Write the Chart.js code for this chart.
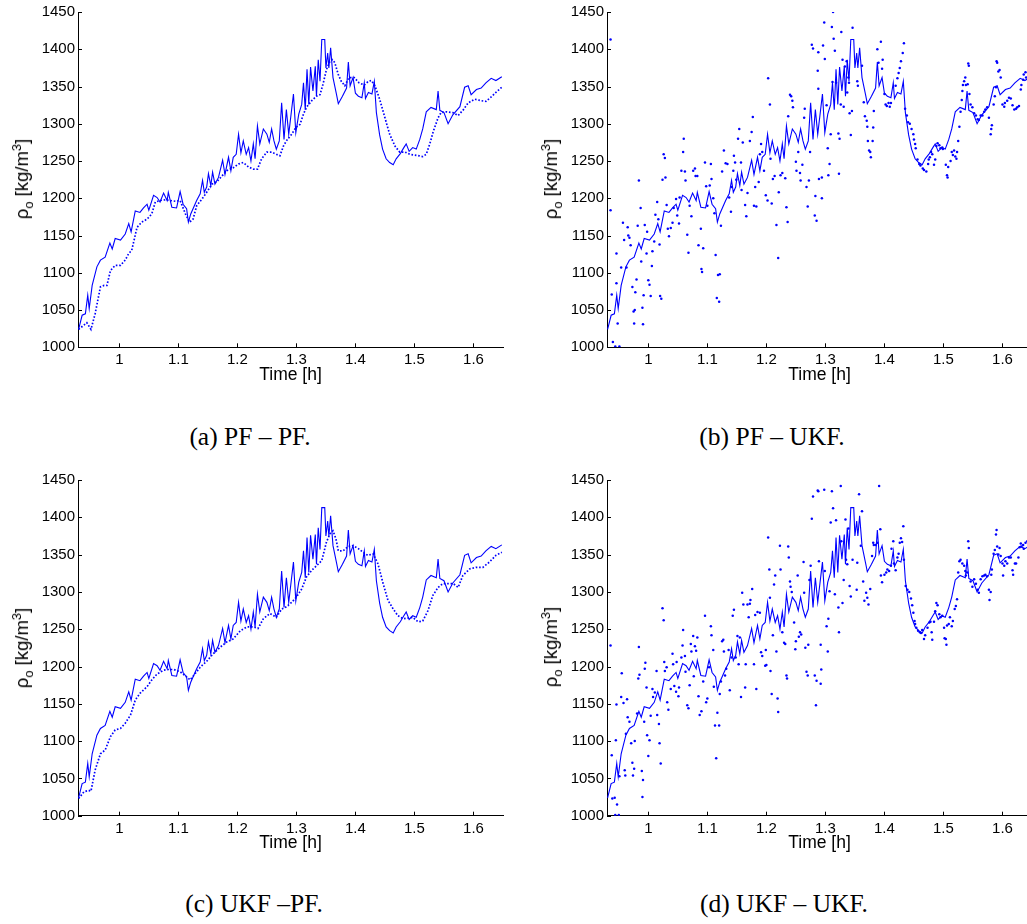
<!DOCTYPE html>
<html>
<head>
<meta charset="utf-8">
<script src="https://cdn.jsdelivr.net/npm/chart.js@4.4.0/dist/chart.umd.min.js"></script>
<style>
    html, body { margin: 0; padding: 0; background: #fff; }
    body { width: 1027px; height: 924px; overflow: hidden; position: relative; }
    canvas { position: absolute; }
    .ylab {
        position: absolute; white-space: nowrap; color: #000;
        font: 18.5px "Liberation Sans", Arial, sans-serif;
        transform: translate(-50%, -50%) rotate(-90deg);
    }
    .ylab sub, .ylab sup { font-size: 70%; line-height: 0; }
    .cap {
        position: absolute; white-space: nowrap; color: #000;
        font: 25.5px "Liberation Serif", "Times New Roman", serif;
        transform: translate(-50%, -50%);
    }
</style>
</head>
<body>
<script>
// Axis ticks
const xTicks = [1, 1.1, 1.2, 1.3, 1.4, 1.5, 1.6];
const yTicks = [1000, 1050, 1100, 1150, 1200, 1250, 1300, 1350, 1400, 1450];

// True density [time h, rho kg/m3] (solid line, same in every panel)
const trueRho = [[0.931,1024],[0.937,1043],[0.9425,1045],[0.9465,1070],[0.949,1052],[0.954,1083],[0.962,1108],[0.968,1117],[0.976,1121],[0.984,1140],[0.988,1132],[0.993,1146],[1.002,1144],[1.010,1152],[1.016,1166],[1.020,1155],[1.027,1183],[1.035,1181],[1.041,1187],[1.047,1192],[1.050,1184],[1.058,1204],[1.064,1201],[1.069,1195],[1.075,1207],[1.081,1197],[1.083,1208],[1.089,1188],[1.097,1187],[1.103,1209],[1.108,1192],[1.114,1186],[1.117,1168],[1.121,1179],[1.126,1188],[1.131,1197],[1.137,1206],[1.141,1224],[1.144,1208],[1.148,1215],[1.151,1233],[1.155,1217],[1.158,1235],[1.162,1219],[1.168,1228],[1.175,1251],[1.179,1232],[1.185,1255],[1.189,1237],[1.193,1255],[1.198,1259],[1.202,1286],[1.206,1261],[1.210,1277],[1.215,1259],[1.219,1268],[1.223,1250],[1.227,1273],[1.230,1253],[1.234,1297],[1.238,1273],[1.244,1293],[1.250,1286],[1.254,1275],[1.258,1293],[1.262,1277],[1.266,1266],[1.271,1277],[1.275,1328],[1.279,1279],[1.283,1319],[1.287,1286],[1.295,1340],[1.299,1288],[1.304,1313],[1.309,1326],[1.312,1355],[1.315,1319],[1.318,1373],[1.321,1326],[1.324,1376],[1.328,1344],[1.332,1377],[1.334,1337],[1.337,1386],[1.340,1357],[1.343,1413],[1.348,1413],[1.350,1375],[1.353,1395],[1.355,1375],[1.358,1402],[1.362,1362],[1.368,1339],[1.371,1327],[1.378,1337],[1.385,1348],[1.388,1383],[1.391,1351],[1.396,1362],[1.400,1341],[1.405,1337],[1.411,1335],[1.415,1355],[1.417,1334],[1.422,1342],[1.428,1340],[1.432,1357],[1.4355,1315],[1.441,1285],[1.446,1266],[1.452,1253],[1.458,1248],[1.464,1245],[1.469,1253],[1.476,1260],[1.482,1268],[1.486,1273],[1.491,1263],[1.497,1268],[1.503,1266],[1.509,1279],[1.514,1293],[1.520,1316],[1.528,1322],[1.537,1319],[1.540,1344],[1.543,1318],[1.550,1315],[1.557,1300],[1.565,1312],[1.577,1323],[1.585,1349],[1.591,1351],[1.596,1339],[1.605,1346],[1.613,1348],[1.621,1355],[1.630,1361],[1.638,1358],[1.648,1363]];

// (a) PF - PF estimate
const estA = [[0.931,1024],[0.945,1033],[0.952,1024],[0.959,1045],[0.968,1081],[0.974,1083],[0.979,1083],[0.985,1103],[0.993,1110],[1.002,1110],[1.010,1117],[1.016,1126],[1.021,1130],[1.030,1161],[1.038,1168],[1.047,1172],[1.055,1179],[1.061,1195],[1.069,1197],[1.078,1198],[1.086,1197],[1.095,1196],[1.103,1197],[1.112,1179],[1.119,1168],[1.125,1172],[1.131,1190],[1.140,1199],[1.148,1208],[1.157,1219],[1.165,1222],[1.174,1230],[1.182,1237],[1.193,1241],[1.202,1246],[1.210,1248],[1.219,1242],[1.227,1239],[1.234,1239],[1.241,1253],[1.250,1262],[1.258,1262],[1.266,1259],[1.272,1257],[1.278,1270],[1.283,1277],[1.292,1286],[1.299,1295],[1.306,1299],[1.312,1313],[1.317,1322],[1.326,1331],[1.334,1337],[1.340,1339],[1.345,1353],[1.351,1373],[1.357,1384],[1.361,1386],[1.365,1382],[1.371,1366],[1.376,1357],[1.382,1351],[1.389,1362],[1.398,1362],[1.406,1355],[1.415,1352],[1.422,1357],[1.427,1358],[1.433,1351],[1.441,1333],[1.450,1308],[1.458,1286],[1.467,1270],[1.475,1262],[1.484,1262],[1.492,1259],[1.500,1258],[1.508,1257],[1.514,1256],[1.520,1259],[1.526,1273],[1.532,1290],[1.540,1308],[1.545,1315],[1.554,1316],[1.565,1315],[1.574,1311],[1.583,1319],[1.591,1328],[1.602,1333],[1.613,1331],[1.621,1330],[1.630,1336],[1.638,1342],[1.648,1349]];

// (c) UKF - PF estimate
const estC = [[0.931,1023],[0.940,1032],[0.948,1034],[0.952,1033],[0.959,1061],[0.968,1083],[0.976,1088],[0.985,1106],[0.993,1115],[1.002,1117],[1.010,1124],[1.019,1135],[1.027,1155],[1.035,1164],[1.047,1173],[1.055,1182],[1.064,1190],[1.075,1195],[1.083,1196],[1.092,1196],[1.103,1193],[1.114,1186],[1.120,1182],[1.128,1190],[1.137,1199],[1.148,1207],[1.159,1217],[1.171,1226],[1.182,1233],[1.193,1237],[1.205,1248],[1.216,1253],[1.227,1253],[1.235,1251],[1.244,1264],[1.255,1271],[1.266,1266],[1.275,1277],[1.283,1280],[1.292,1286],[1.300,1293],[1.309,1304],[1.317,1320],[1.326,1329],[1.334,1335],[1.343,1342],[1.351,1367],[1.357,1378],[1.362,1382],[1.367,1371],[1.371,1355],[1.379,1355],[1.388,1361],[1.396,1362],[1.405,1358],[1.413,1353],[1.421,1349],[1.430,1351],[1.438,1338],[1.447,1311],[1.455,1289],[1.464,1277],[1.472,1268],[1.481,1264],[1.490,1265],[1.497,1266],[1.506,1260],[1.514,1261],[1.523,1275],[1.531,1295],[1.540,1306],[1.548,1311],[1.557,1311],[1.566,1311],[1.574,1306],[1.582,1322],[1.594,1331],[1.605,1333],[1.616,1333],[1.627,1340],[1.638,1349],[1.648,1353]];

// (b) PF - UKF estimate (scattered points)
const estB = [[0.936,1413],[0.936,1184],[0.938,1071],[0.940,1007],[0.944,1001],[0.951,1001],[0.946,1086],[0.948,1032],[0.946,1126],[0.954,1107],[0.957,1167],[0.959,1144],[0.963,1107],[0.965,1161],[0.966,1150],[0.968,1147],[0.970,1137],[0.973,1081],[0.975,1048],[0.977,1050],[0.976,1032],[0.978,1074],[0.980,1091],[0.982,1163],[0.984,1224],[0.987,1187],[0.988,1115],[0.990,1053],[0.991,1031],[0.992,1070],[0.994,1164],[0.997,1126],[0.998,1155],[1.000,1090],[1.002,1084],[1.004,1069],[1.006,1109],[1.007,1129],[1.010,1142],[1.012,1178],[1.015,1195],[1.017,1172],[1.019,1138],[1.020,1069],[1.022,1065],[1.024,1225],[1.026,1259],[1.028,1254],[1.029,1228],[1.031,1191],[1.033,1159],[1.035,1149],[1.038,1160],[1.041,1167],[1.043,1187],[1.047,1199],[1.049,1177],[1.052,1166],[1.053,1201],[1.056,1237],[1.059,1262],[1.060,1280],[1.062,1236],[1.063,1224],[1.066,1151],[1.068,1127],[1.070,1190],[1.073,1176],[1.076,1237],[1.079,1240],[1.080,1230],[1.083,1230],[1.085,1137],[1.089,1159],[1.090,1105],[1.091,1101],[1.093,1133],[1.096,1248],[1.098,1216],[1.100,1190],[1.104,1217],[1.106,1246],[1.107,1226],[1.110,1200],[1.112,1180],[1.114,1124],[1.116,1066],[1.118,1097],[1.120,1061],[1.121,1098],[1.123,1163],[1.125,1236],[1.128,1264],[1.131,1247],[1.134,1246],[1.137,1201],[1.140,1182],[1.141,1215],[1.144,1237],[1.145,1257],[1.147,1248],[1.149,1225],[1.152,1280],[1.154,1293],[1.157,1248],[1.158,1211],[1.160,1275],[1.164,1191],[1.166,1176],[1.168,1207],[1.172,1277],[1.175,1289],[1.177,1309],[1.179,1190],[1.181,1215],[1.183,1189],[1.187,1222],[1.189,1259],[1.191,1273],[1.193,1262],[1.196,1237],[1.199,1204],[1.202,1197],[1.203,1361],[1.206,1326],[1.207,1253],[1.209,1193],[1.211,1226],[1.214,1230],[1.217,1164],[1.220,1120],[1.221,1208],[1.224,1231],[1.227,1234],[1.232,1227],[1.234,1188],[1.236,1168],[1.237,1310],[1.240,1339],[1.242,1337],[1.244,1331],[1.245,1322],[1.250,1249],[1.251,1237],[1.254,1262],[1.257,1234],[1.258,1224],[1.261,1245],[1.264,1308],[1.265,1320],[1.268,1215],[1.270,1189],[1.272,1224],[1.274,1262],[1.277,1406],[1.279,1401],[1.282,1177],[1.283,1203],[1.285,1170],[1.288,1396],[1.288,1347],[1.289,1226],[1.287,1371],[1.294,1200],[1.294,1228],[1.296,1405],[1.298,1436],[1.299,1387],[1.302,1325],[1.304,1267],[1.305,1231],[1.307,1246],[1.309,1286],[1.311,1430],[1.312,1356],[1.313,1450],[1.314,1414],[1.316,1398],[1.318,1355],[1.322,1287],[1.323,1233],[1.324,1280],[1.326,1326],[1.327,1423],[1.329,1386],[1.331,1323],[1.333,1377],[1.336,1384],[1.337,1342],[1.339,1362],[1.340,1355],[1.341,1314],[1.343,1285],[1.345,1317],[1.346,1429],[1.354,1357],[1.355,1351],[1.362,1378],[1.365,1329],[1.367,1310],[1.370,1304],[1.371,1296],[1.372,1277],[1.374,1264],[1.376,1262],[1.377,1255],[1.380,1277],[1.381,1295],[1.382,1317],[1.388,1400],[1.390,1382],[1.394,1410],[1.396,1374],[1.397,1386],[1.400,1340],[1.402,1326],[1.404,1324],[1.407,1328],[1.409,1323],[1.411,1328],[1.419,1351],[1.422,1361],[1.424,1368],[1.426,1375],[1.428,1384],[1.431,1395],[1.433,1408],[1.435,1320],[1.438,1311],[1.440,1302],[1.443,1300],[1.446,1293],[1.449,1286],[1.450,1279],[1.452,1273],[1.453,1267],[1.456,1252],[1.459,1246],[1.461,1244],[1.465,1240],[1.467,1238],[1.471,1236],[1.474,1246],[1.475,1252],[1.477,1255],[1.479,1262],[1.481,1259],[1.484,1245],[1.486,1252],[1.488,1270],[1.490,1274],[1.493,1271],[1.495,1267],[1.498,1268],[1.499,1266],[1.504,1245],[1.506,1231],[1.507,1228],[1.508,1242],[1.512,1250],[1.514,1262],[1.516,1258],[1.518,1264],[1.520,1256],[1.522,1253],[1.523,1262],[1.525,1277],[1.527,1296],[1.529,1316],[1.531,1332],[1.532,1344],[1.533,1352],[1.535,1357],[1.537,1362],[1.538,1352],[1.541,1353],[1.542,1381],[1.543,1378],[1.544,1340],[1.546,1326],[1.549,1322],[1.552,1314],[1.555,1311],[1.558,1306],[1.560,1305],[1.563,1311],[1.566,1311],[1.569,1316],[1.571,1319],[1.574,1322],[1.577,1308],[1.580,1286],[1.581,1293],[1.582,1298],[1.585,1326],[1.587,1337],[1.589,1349],[1.590,1384],[1.591,1382],[1.593,1370],[1.595,1372],[1.597,1362],[1.600,1326],[1.603,1323],[1.604,1328],[1.608,1331],[1.611,1335],[1.614,1334],[1.617,1325],[1.620,1319],[1.623,1320],[1.625,1322],[1.628,1324],[1.631,1346],[1.632,1352],[1.635,1359],[1.636,1366],[1.639,1369],[1.640,1362]];

// (d) UKF - UKF estimate (scattered points)
const estD = [[0.936,1228],[0.938,1081],[0.939,1023],[0.943,1024],[0.947,1015],[0.944,1001],[0.950,1001],[0.945,1101],[0.946,1149],[0.951,1053],[0.954,1159],[0.955,1191],[0.958,1151],[0.960,1061],[0.961,1054],[0.962,1110],[0.964,1156],[0.965,1132],[0.968,1126],[0.971,1097],[0.973,1071],[0.974,1054],[0.976,1063],[0.977,1100],[0.981,1137],[0.983,1184],[0.984,1226],[0.985,1189],[0.989,1060],[0.990,1025],[0.991,1048],[0.993,1126],[0.994,1197],[0.995,1205],[0.997,1172],[0.998,1108],[1.000,1080],[1.002,1101],[1.004,1134],[1.007,1170],[1.008,1159],[1.011,1165],[1.014,1194],[1.015,1135],[1.018,1123],[1.019,1097],[1.021,1070],[1.024,1278],[1.026,1262],[1.027,1206],[1.028,1194],[1.031,1199],[1.032,1152],[1.034,1142],[1.038,1170],[1.041,1217],[1.042,1203],[1.044,1174],[1.047,1166],[1.048,1206],[1.051,1160],[1.052,1172],[1.056,1212],[1.058,1228],[1.059,1249],[1.062,1214],[1.063,1193],[1.066,1148],[1.068,1144],[1.070,1175],[1.072,1230],[1.073,1220],[1.076,1241],[1.077,1187],[1.079,1227],[1.081,1221],[1.083,1239],[1.085,1160],[1.087,1135],[1.090,1140],[1.093,1180],[1.096,1268],[1.098,1152],[1.100,1157],[1.103,1199],[1.106,1254],[1.107,1242],[1.110,1222],[1.111,1173],[1.113,1121],[1.115,1077],[1.117,1138],[1.120,1121],[1.121,1163],[1.123,1180],[1.125,1234],[1.127,1236],[1.128,1220],[1.130,1188],[1.132,1197],[1.136,1222],[1.138,1168],[1.141,1212],[1.143,1268],[1.145,1276],[1.148,1212],[1.151,1241],[1.153,1203],[1.155,1239],[1.157,1159],[1.159,1299],[1.161,1283],[1.164,1172],[1.165,1203],[1.168,1283],[1.170,1266],[1.172,1284],[1.173,1289],[1.176,1304],[1.179,1203],[1.181,1269],[1.183,1170],[1.185,1273],[1.189,1272],[1.191,1219],[1.193,1214],[1.198,1201],[1.199,1222],[1.200,1202],[1.203,1373],[1.205,1330],[1.206,1292],[1.207,1194],[1.209,1163],[1.211,1242],[1.213,1310],[1.215,1322],[1.217,1220],[1.219,1157],[1.220,1139],[1.223,1362],[1.224,1330],[1.227,1246],[1.230,1232],[1.232,1230],[1.234,1188],[1.235,1184],[1.237,1361],[1.238,1346],[1.240,1314],[1.241,1307],[1.243,1300],[1.247,1259],[1.249,1223],[1.250,1234],[1.253,1322],[1.255,1240],[1.257,1246],[1.259,1243],[1.263,1340],[1.264,1299],[1.266,1225],[1.268,1193],[1.270,1188],[1.271,1229],[1.273,1316],[1.275,1335],[1.277,1398],[1.279,1428],[1.282,1188],[1.284,1148],[1.285,1181],[1.288,1435],[1.289,1341],[1.292,1229],[1.292,1177],[1.293,1196],[1.287,1436],[1.298,1437],[1.299,1328],[1.302,1254],[1.305,1264],[1.304,1220],[1.307,1301],[1.309,1393],[1.311,1435],[1.313,1412],[1.316,1297],[1.318,1396],[1.322,1279],[1.323,1246],[1.326,1442],[1.327,1368],[1.329,1285],[1.331,1316],[1.334,1397],[1.335,1343],[1.337,1337],[1.339,1385],[1.341,1308],[1.343,1294],[1.346,1343],[1.353,1303],[1.354,1339],[1.357,1431],[1.360,1362],[1.362,1408],[1.364,1314],[1.366,1288],[1.369,1299],[1.371,1292],[1.373,1283],[1.376,1304],[1.379,1348],[1.381,1366],[1.382,1363],[1.385,1363],[1.388,1366],[1.391,1442],[1.393,1384],[1.394,1322],[1.396,1313],[1.400,1323],[1.403,1326],[1.405,1330],[1.408,1328],[1.411,1335],[1.412,1358],[1.415,1368],[1.416,1338],[1.419,1329],[1.422,1346],[1.424,1351],[1.426,1366],[1.428,1372],[1.430,1367],[1.432,1388],[1.433,1343],[1.436,1308],[1.439,1303],[1.442,1300],[1.445,1291],[1.447,1282],[1.449,1272],[1.451,1261],[1.452,1257],[1.454,1252],[1.457,1248],[1.460,1246],[1.462,1245],[1.464,1249],[1.467,1237],[1.469,1242],[1.473,1252],[1.476,1259],[1.478,1260],[1.480,1246],[1.481,1236],[1.484,1260],[1.486,1274],[1.488,1285],[1.490,1282],[1.493,1270],[1.495,1266],[1.498,1268],[1.501,1252],[1.502,1238],[1.504,1237],[1.505,1229],[1.506,1255],[1.509,1257],[1.511,1266],[1.514,1254],[1.516,1261],[1.519,1277],[1.521,1281],[1.523,1290],[1.525,1326],[1.527,1341],[1.529,1343],[1.532,1338],[1.535,1335],[1.537,1328],[1.538,1322],[1.540,1326],[1.542,1368],[1.543,1359],[1.546,1314],[1.549,1307],[1.552,1317],[1.555,1311],[1.558,1303],[1.560,1299],[1.563,1317],[1.566,1321],[1.569,1322],[1.571,1323],[1.574,1321],[1.577,1303],[1.578,1289],[1.580,1300],[1.581,1323],[1.582,1330],[1.585,1351],[1.587,1356],[1.589,1377],[1.590,1383],[1.591,1361],[1.593,1350],[1.595,1359],[1.597,1348],[1.600,1338],[1.601,1322],[1.603,1335],[1.605,1341],[1.608,1338],[1.611,1346],[1.614,1346],[1.617,1329],[1.618,1323],[1.621,1338],[1.623,1338],[1.627,1346],[1.629,1360],[1.631,1365],[1.632,1361],[1.635,1363],[1.636,1358],[1.639,1366],[1.642,1368]];

const captions = ['(a) PF \u2013 PF.', '(b) PF \u2013 UKF.', '(c) UKF \u2013PF.', '(d) UKF \u2013 UKF.'];

const BLUE = '#0000ff';
const TICK_FONT = { family: '"Liberation Sans", Arial, sans-serif', size: 15 };

// MATLAB style inward tick marks
const inwardTicks = {
    id: 'inwardTicks',
    afterDraw(chart) {
        const { ctx, chartArea, scales: { x, y } } = chart;
        ctx.save();
        ctx.strokeStyle = '#000';
        ctx.lineWidth = 1;
        ctx.beginPath();
        xTicks.forEach(v => {
            const px = Math.round(x.getPixelForValue(v)) + 0.5;
            ctx.moveTo(px, chartArea.bottom);
            ctx.lineTo(px, chartArea.bottom - 4);
        });
        yTicks.forEach(v => {
            const py = Math.round(y.getPixelForValue(v)) + 0.5;
            ctx.moveTo(chartArea.left, py);
            ctx.lineTo(chartArea.left + 4, py);
        });
        ctx.stroke();
        ctx.restore();
    }
};

const toXY = arr => arr.map(p => ({ x: p[0], y: p[1] }));

// canvas position and plot box (absolute page pixels)
const panels = [
    { left: 0,   top: 0,   plotTop: 10.7,  plotBottom: 347.3, est: estA, dots: false, capX: 250, capY: 437 },
    { left: 529, top: 0,   plotTop: 10.7,  plotBottom: 347.3, est: estB, dots: true,  capX: 772, capY: 437 },
    { left: 0,   top: 468, plotTop: 479.3, plotBottom: 815.7, est: estC, dots: false, capX: 254, capY: 904 },
    { left: 529, top: 468, plotTop: 478.5, plotBottom: 815.7, est: estD, dots: true,  capX: 784, capY: 904 }
];

const CW = 520, CH = 400, YAXIS_W = 78, PAD_R = 17;

panels.forEach((p, i) => {
    const canvas = document.createElement('canvas');
    canvas.width = CW; canvas.height = CH;
    canvas.style.left = p.left + 'px';
    canvas.style.top = p.top + 'px';
    canvas.style.width = CW + 'px';
    canvas.style.height = CH + 'px';
    document.body.appendChild(canvas);

    const padTop = p.plotTop - p.top;
    const xAxisH = CH - (p.plotBottom - p.top);

    const estDataset = p.dots ? {
        data: toXY(p.est),
        showLine: false,
        pointRadius: 1.25,
        pointBorderWidth: 0,
        pointBackgroundColor: BLUE
    } : {
        data: toXY(p.est),
        showLine: true,
        borderColor: BLUE,
        borderWidth: 1.7,
        borderDash: [1.6, 1.8],
        pointRadius: 0
    };

    new Chart(canvas.getContext('2d'), {
        type: 'scatter',
        data: {
            datasets: [
                { data: toXY(trueRho), showLine: true, borderColor: BLUE, borderWidth: 1.1, pointRadius: 0 },
                estDataset
            ]
        },
        options: {
            responsive: false,
            animation: false,
            devicePixelRatio: 1,
            layout: { padding: { left: 0, right: PAD_R, top: padTop, bottom: 0 } },
            plugins: { legend: { display: false }, tooltip: { enabled: false } },
            scales: {
                x: {
                    type: 'linear', min: 0.93, max: 1.65,
                    afterBuildTicks: s => { s.ticks = xTicks.map(v => ({ value: v })); },
                    afterFit: s => { s.height = xAxisH; },
                    grid: { display: false, drawTicks: false },
                    border: { display: true, color: '#000', width: 1 },
                    ticks: { color: '#000', font: TICK_FONT, padding: 4, maxRotation: 0, autoSkip: false, callback: v => String(v) },
                    title: { display: true, text: 'Time [h]', color: '#000', font: { family: TICK_FONT.family, size: 17.5 }, padding: { top: 0, bottom: 14 } }
                },
                y: {
                    type: 'linear', min: 1000, max: 1450,
                    afterBuildTicks: s => { s.ticks = yTicks.map(v => ({ value: v })); },
                    afterFit: s => { s.width = YAXIS_W; },
                    grid: { display: false, drawTicks: false },
                    border: { display: true, color: '#000', width: 1 },
                    ticks: { color: '#000', font: TICK_FONT, padding: 3, autoSkip: false, callback: v => String(v) }
                }
            }
        },
        plugins: [inwardTicks]
    });

    const ylab = document.createElement('div');
    ylab.className = 'ylab';
    ylab.innerHTML = '\u03c1<sub>o</sub> [kg/m<sup>3</sup>]';
    ylab.style.left = (p.left + 22) + 'px';
    ylab.style.top = ((p.plotTop + p.plotBottom) / 2) + 'px';
    document.body.appendChild(ylab);

    const cap = document.createElement('div');
    cap.className = 'cap';
    cap.textContent = captions[i];
    cap.style.left = p.capX + 'px';
    cap.style.top = p.capY + 'px';
    document.body.appendChild(cap);
});
</script>
</body>
</html>
